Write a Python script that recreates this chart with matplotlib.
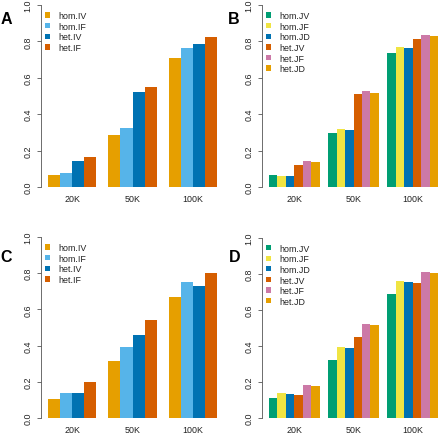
import matplotlib
matplotlib.use('Agg')
import matplotlib.pyplot as plt
from matplotlib.patches import Patch
import numpy as np

plt.rcParams['font.family'] = ['Liberation Sans', 'DejaVu Sans']

sizes = ['20K', '50K', '100K']
labels_I = ['hom.IV', 'hom.IF', 'het.IV', 'het.IF']
labels_J = ['hom.JV', 'hom.JF', 'hom.JD', 'het.JV', 'het.JF', 'het.JD']
colors_I = ['#E69F00', '#56B4E9', '#0072B2', '#D55E00']
colors_J = ['#009E73', '#F0E442', '#0072B2', '#D55E00', '#CC79A7', '#E69F00']

# one row per series, values for 20K / 50K / 100K
A_vals = [[0.068, 0.288, 0.708],
          [0.077, 0.325, 0.763],
          [0.141, 0.523, 0.785],
          [0.167, 0.547, 0.822]]
B_vals = [[0.064, 0.295, 0.736],
          [0.062, 0.317, 0.771],
          [0.062, 0.312, 0.765],
          [0.123, 0.512, 0.811],
          [0.141, 0.525, 0.835],
          [0.136, 0.516, 0.828]]
C_vals = [[0.105, 0.313, 0.668],
          [0.136, 0.394, 0.751],
          [0.136, 0.460, 0.727],
          [0.201, 0.543, 0.801]]
D_vals = [[0.111, 0.322, 0.688],
          [0.139, 0.392, 0.760],
          [0.135, 0.386, 0.754],
          [0.126, 0.449, 0.747],
          [0.183, 0.523, 0.811],
          [0.179, 0.516, 0.806]]

W, H = 440, 435
fig = plt.figure(figsize=(W / 100, H / 100), dpi=100)
TXT = '#222222'
AX = '#555555'
FS = 6.4


def panel(left, top, bottom, vals, labels, colors, letter, lx, ly):
    ax = fig.add_axes([left / W, 1 - bottom / H, 183 / W, (bottom - top) / H])
    n = len(vals)
    span = 3 * n + 2
    for i, (v, lab, c) in enumerate(zip(vals, labels, colors)):
        x = [1 + g * (n + 1) + i + 0.5 for g in range(len(sizes))]
        ax.bar(x, v, width=1.0, color=c, linewidth=0, label=lab)
    ax.set_xlim(1 - 0.04 * span, 1 + span + 0.04 * span)
    ax.set_ylim(0, 1)
    ax.set_xticks([1 + g * (n + 1) + n / 2 for g in range(len(sizes))])
    ax.set_xticklabels(sizes, fontsize=FS, color=TXT)
    ax.tick_params(axis='x', length=0, pad=5)
    ax.set_yticks(np.arange(0, 1.01, 0.2))
    ax.set_yticklabels([f'{t:.1f}' for t in np.arange(0, 1.01, 0.2)],
                       rotation=90, va='center', fontsize=FS, color=TXT)
    ax.tick_params(axis='y', length=3, width=0.6, color=AX, pad=3)
    for s in ('top', 'right', 'bottom'):
        ax.spines[s].set_visible(False)
    ax.spines['left'].set_color(AX)
    ax.spines['left'].set_linewidth(0.6)
    ax.spines['left'].set_bounds(0, 1)
    handles = [Patch(facecolor=c, edgecolor='none', label=l) for c, l in zip(colors, labels)]
    ax.legend(handles=handles, loc='upper left', bbox_to_anchor=(0.0, 0.99), frameon=False,
              fontsize=FS, handlelength=0.55, handleheight=0.55, handletextpad=0.85,
              labelspacing=0.18, borderaxespad=0.1, labelcolor=TXT)
    fig.text(lx / W, 1 - ly / H, letter, fontsize=11.5, fontweight='bold',
             ha='center', va='center', color='black')
    return ax


panel(41, 6, 188, A_vals, labels_I, colors_I, 'A', 6, 20)
panel(262, 6, 188, B_vals, labels_J, colors_J, 'B', 233.5, 20)
panel(41, 238, 419, C_vals, labels_I, colors_I, 'C', 6, 258)
panel(262, 238.5, 419, D_vals, labels_J, colors_J, 'D', 234.5, 258)

fig.savefig('out.png', dpi=100)
